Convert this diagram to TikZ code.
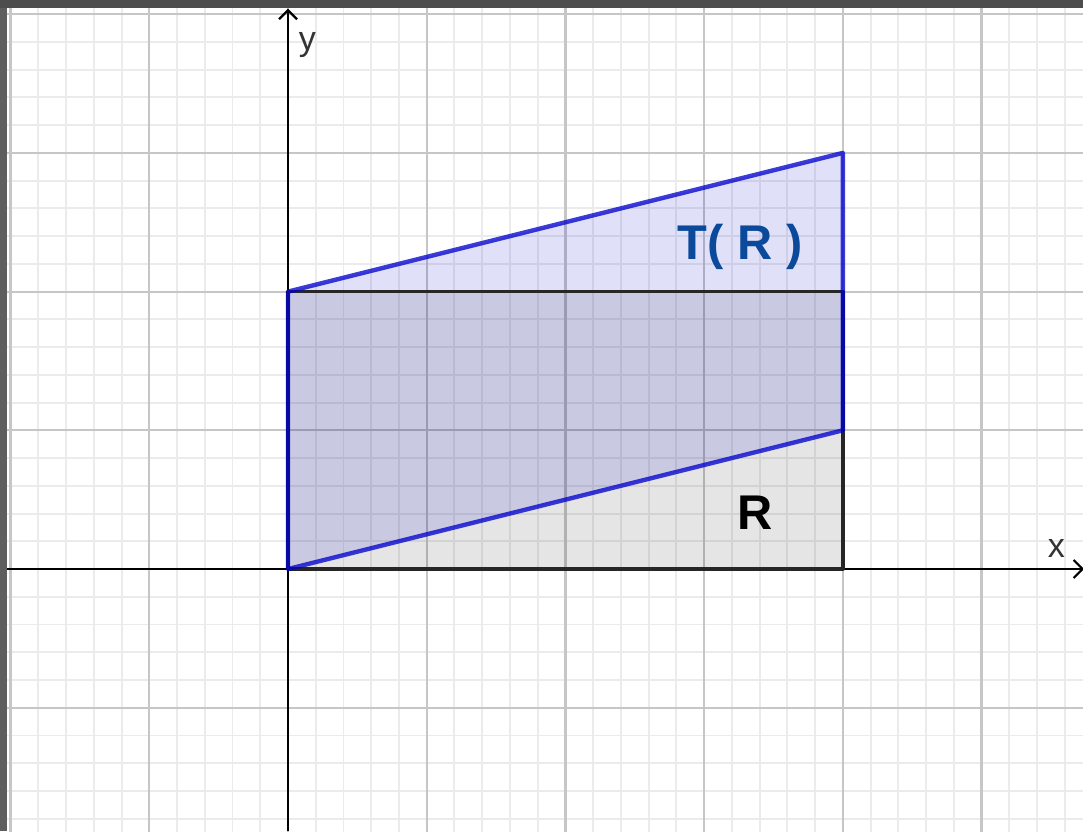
\documentclass[tikz,border=0pt]{standalone}
\usepackage{fontspec}
\setmainfont{Liberation Sans}
\setsansfont{Liberation Sans}
\usetikzlibrary{arrows.meta}
\definecolor{cframe}{HTML}{4D4D4D}
\definecolor{cframeleft}{HTML}{5E5E5E}
\definecolor{cmajor}{HTML}{C6C6C6}
\definecolor{cminor}{HTML}{EBEBEB}
\definecolor{ctrans}{HTML}{0000CC}
\definecolor{clabel}{HTML}{0B4A9A}
\definecolor{caxis}{HTML}{333333}
\tikzset{
  every picture/.style={font=\sffamily},
  minorgrid/.style={draw=cminor, line width=0.4pt},
  majorgrid/.style={draw=cmajor, line width=0.45pt},
  axis/.style={draw=black, line width=0.45pt, -{Straight Barb[length=0.065cm, width=0.13cm]}},
  regionR/.style={fill=black, fill opacity=0.1},
  regionT/.style={fill=ctrans, fill opacity=0.12},
  edgeR/.style={draw=black!85, line width=0.75pt, line join=round},
  edgeT/.style={draw=ctrans, draw opacity=0.77, line width=0.9pt, line join=round},
  shapelabel/.style={font=\sffamily\bfseries\fontsize{10}{12}\selectfont, inner sep=0pt},
  axislabel/.style={font=\sffamily\fontsize{7}{8}\selectfont, text=caxis, inner sep=0pt},
}

\begin{document}
\begin{tikzpicture}
  \useasboundingbox (-2.0764,-1.889) rectangle (5.7318,4.1024);
  % grid
  \begin{scope}
    \clip (-2.0764,-1.889) rectangle (5.7318,4.1024);
    \foreach \i in {-11,...,29}
      \draw[minorgrid] (\i/5,-2) -- (\i/5,4.2);
    \foreach \j in {-10,...,21}
      \draw[minorgrid] (-2.2,\j/5) -- (5.8,\j/5);
    \foreach \i in {-2,...,5}
      \draw[majorgrid] (\i,-2) -- (\i,4.2);
    \foreach \j in {-1,...,4}
      \draw[majorgrid] (-2.2,\j) -- (5.8,\j);
  \end{scope}
  % axes
  \draw[axis] (-2.03,0) -- (5.74,0);
  \draw[axis] (0,-1.889) -- (0,4.04);
  \node[axislabel, anchor=base west] (xlabel) at (5.472,0.0865) {x};
  \node[axislabel, anchor=base west] (ylabel) at (0.072,3.742) {y};
  % R and its image T(R)
  \coordinate (O) at (0,0);
  \coordinate (A) at (4,0);
  \coordinate (B) at (4,2);
  \coordinate (C) at (0,2);
  \coordinate (TA) at (4,1);
  \coordinate (TB) at (4,3);
  \fill[regionR] (O) -- (A) -- (B) -- (C) -- cycle;
  \fill[regionT] (O) -- (TA) -- (TB) -- (C) -- cycle;
  \draw[edgeR] (O) -- (A) -- (B) -- (C) -- cycle;
  \draw[edgeT] (O) -- (TA) -- (TB) -- (C) -- cycle;
  \node[shapelabel, text=clabel, anchor=base] (labelT) at (3.26,2.235) {T( R )};
  \node[shapelabel, anchor=base] (labelR) at (3.367,0.288) {R};
  % window frame
  \fill[cframe] (-2.0764,4.0447) rectangle (5.7318,4.1024);
  \fill[cframeleft] (-2.0764,-1.889) rectangle (-2.0259,4.0447);
\end{tikzpicture}
\end{document}
